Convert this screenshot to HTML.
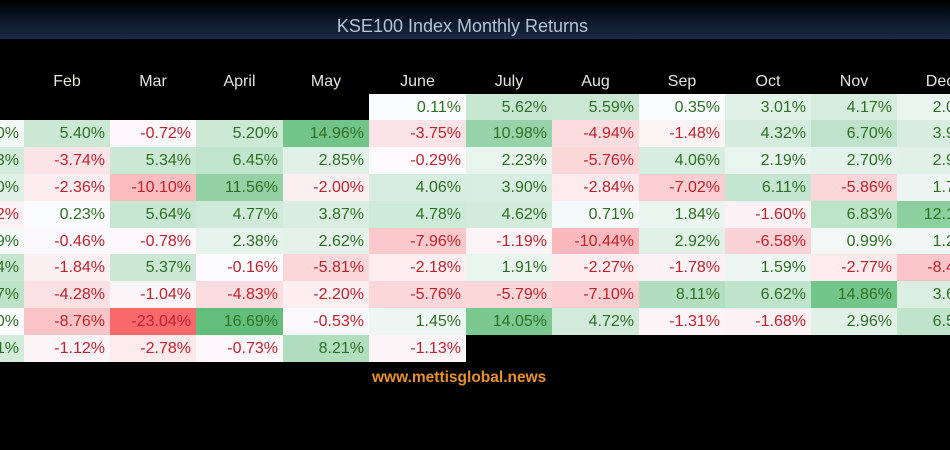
<!DOCTYPE html>
<html><head><meta charset="utf-8">
<style>
html,body{margin:0;padding:0;background:#000;}
#root{position:relative;width:950px;height:450px;overflow:hidden;background:#000;font-family:"Liberation Sans",sans-serif;}
#title-bar{position:absolute;left:0;top:0;width:950px;height:39px;background:linear-gradient(#000 0%,#0a1424 45%,#1b2b44 100%);}
#title{position:absolute;left:0;width:925px;top:16px;text-align:center;color:#b4c2d8;font-size:18px;}
.hdr{position:absolute;top:73px;height:20px;color:#e8e4dc;font-size:16px;text-align:center;}
.cell{position:absolute;height:27px;line-height:27px;text-align:right;font-size:16px;box-sizing:border-box;padding-right:5px;}
#watermark{position:absolute;left:372px;top:369px;color:#e8912a;font-size:15.5px;font-weight:bold;}
</style></head>
<body>
<div id="root">
<div id="title-bar"><div id="title">KSE100 Index Monthly Returns</div></div>
<div id="watermark">www.mettisglobal.news</div>
</div>
<script>
const months=["Jan","Feb","Mar","April","May","June","July","Aug","Sep","Oct","Nov","Dec"];
// rows 0..9; null = empty
const jan=[null,1.10,4.53,3.20,-1.72,0.89,6.04,6.97,0.10,4.51];
const feb=[null,5.40,-3.74,-2.36,0.23,-0.46,-1.84,-4.28,-8.76,-1.12];
const mar=[null,-0.72,5.34,-10.10,5.64,-0.78,5.37,-1.04,-23.04,-2.78];
const apr=[null,5.20,6.45,11.56,4.77,2.38,-0.16,-4.83,16.69,-0.73];
const may=[null,14.96,2.85,-2.00,3.87,2.62,-5.81,-2.20,-0.53,8.21];
const jun=[0.11,-3.75,-0.29,4.06,4.78,-7.96,-2.18,-5.76,1.45,-1.13];
const jul=[5.62,10.98,2.23,3.90,4.62,-1.19,1.91,-5.79,14.05,null];
const aug=[5.59,-4.94,-5.76,-2.84,0.71,-10.44,-2.27,-7.10,4.72,null];
const sep=[0.35,-1.48,4.06,-7.02,1.84,2.92,-1.78,8.11,-1.31,null];
const oct=[3.01,4.32,2.19,6.11,-1.60,-6.58,1.59,6.62,-1.68,null];
const nov=[4.17,6.70,2.70,-5.86,6.83,0.99,-2.77,14.86,2.96,null];
const dec=[2.05,3.95,2.95,1.75,12.15,1.25,-8.45,3.65,6.55,null];
const series=[jan,feb,mar,apr,may,jun,jul,aug,sep,oct,nov,dec];
const colEdges=[-62,24,110,196,283,369,466,552,639,725,811,897,983];
const top0=93.5,rowH=26.8;
const minV=-23.04,maxV=16.69;
function mix(a,b,t){return a.map((v,i)=>Math.round(v+(b[i]-v)*t));}
function bg(v){const w=[252,252,255];
 if(v>=0)return 'rgb('+mix(w,[99,190,123],Math.min(1,v/maxV)).join(',')+')';
 return 'rgb('+mix(w,[248,105,107],Math.min(1,v/minV)).join(',')+')';}
const root=document.getElementById('root');
months.forEach((m,c)=>{
 const h=document.createElement('div');
 h.className='hdr';
 
 
 h.style.left=colEdges[c]+'px';h.style.width=(colEdges[c+1]-colEdges[c])+'px';
 h.textContent=m;root.appendChild(h);
 series[c].forEach((v,r)=>{
  if(v===null)return;
  const d=document.createElement('div');
  d.className='cell';
  
  
  d.style.left=colEdges[c]+'px';d.style.width=(colEdges[c+1]-colEdges[c])+'px';
  d.style.top=(top0+r*rowH)+'px';d.style.height=(rowH+0.6)+'px';
  d.style.background=bg(v);
  d.style.color=v>=0?'#2f6f24':'#c0222c';
  d.textContent=v.toFixed(2)+'%';
  root.appendChild(d);
 });
});
</script>
</body></html>
